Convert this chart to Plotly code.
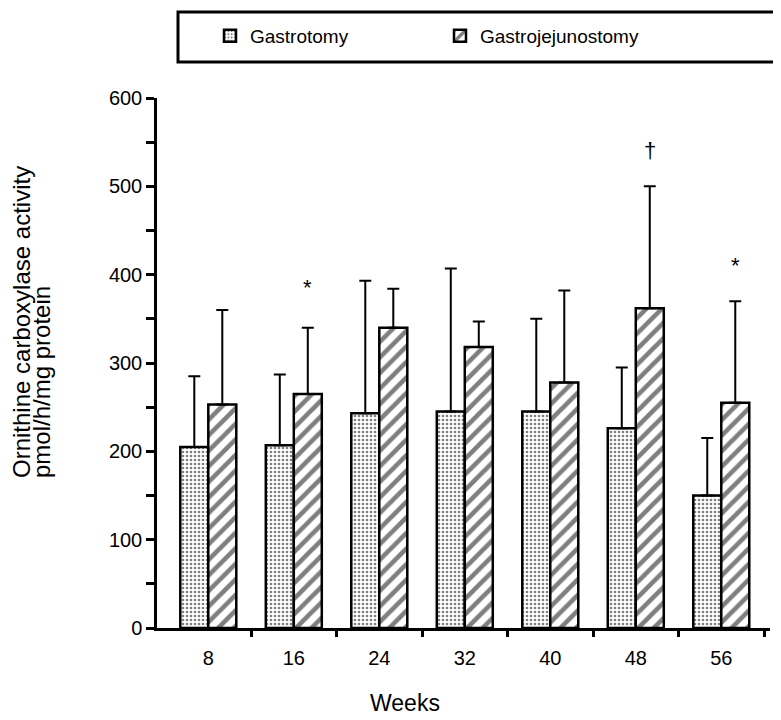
import plotly.graph_objects as go

weeks = ["8", "16", "24", "32", "40", "48", "56"]
gastrotomy_mean = [205, 207, 243, 245, 245, 226, 150]
gastrotomy_top = [285, 287, 393, 407, 350, 295, 215]
gastrojej_mean = [253, 265, 340, 318, 278, 362, 255]
gastrojej_top = [360, 340, 384, 347, 382, 500, 370]
marks = ["", "*", "", "", "", "†", "*"]
mark_y = [None, 386, None, None, None, 541, 410]

FONT = "Liberation Sans, Arial, sans-serif"
xi = list(range(len(weeks)))
bargap = 0.345
barw = (1 - bargap) / 2

g_err = [t - m for t, m in zip(gastrotomy_top, gastrotomy_mean)]
gj_err = [t - m for t, m in zip(gastrojej_top, gastrojej_mean)]

# page has an 8px body margin: figure pixel = page pixel - 8
OFF = 8
W, H = 781 - OFF, 720 - OFF
L, R, T, B = 157 - OFF, 11, 98 - OFF, 92
PW, PH = W - L - R, H - T - B


def px_x(p):  # page x -> paper
    return (p - OFF - L) / PW


def px_y(p):  # page y -> paper
    return (H - B - (p - OFF)) / PH


fig = go.Figure()
fig.add_trace(go.Bar(
    x=xi, y=gastrotomy_mean, name="Gastrotomy",
    marker=dict(color="white", line=dict(color="black", width=2.5),
                pattern=dict(shape=".", size=4, solidity=0.35, fgcolor="black", bgcolor="white")),
    error_y=dict(type="data", array=g_err, arrayminus=[0]*len(xi), symmetric=False,
                 color="black", thickness=2, width=6),
))
fig.add_trace(go.Bar(
    x=xi, y=gastrojej_mean, name="Gastrojejunostomy",
    marker=dict(color="white", line=dict(color="black", width=2.5),
                pattern=dict(shape="/", size=11, solidity=0.42, fgcolor="black", bgcolor="white")),
    error_y=dict(type="data", array=gj_err, arrayminus=[0]*len(xi), symmetric=False,
                 color="black", thickness=2, width=6),
))

# boundary tick marks between groups (overlay axis)
fig.add_trace(go.Scatter(x=[xi[0], xi[-1]], y=[0, 0], xaxis="x2", mode="lines",
                         line=dict(width=0), showlegend=False, hoverinfo="skip"))

for i, (m, y) in enumerate(zip(marks, mark_y)):
    if m:
        fig.add_annotation(x=i + barw / 2, y=y, text=m, showarrow=False,
                           font=dict(family=FONT, size=22, color="black"),
                           xref="x", yref="y")

ytitle_lines = ["Ornithine carboxylase activity", "pmol/h/mg protein"]
for txt, cx in zip(ytitle_lines, [21, 41]):
    fig.add_annotation(x=px_x(cx), y=px_y(480), xref="paper", yref="paper",
                       text=txt, textangle=-90, showarrow=False,
                       xanchor="center", yanchor="bottom",
                       font=dict(family=FONT, size=24, color="black"))

fig.add_annotation(x=px_x(405), y=px_y(703), xref="paper", yref="paper",
                   text="Weeks", showarrow=False, xanchor="center", yanchor="middle",
                   font=dict(family=FONT, size=23, color="black"))

# legend frame
fig.add_shape(type="rect", xref="paper", yref="paper",
              x0=px_x(178), x1=px_x(800),
              y0=px_y(62), y1=px_y(12),
              line=dict(color="black", width=3), fillcolor="white", layer="below")

xr = [-0.6, 6.57]
fig.update_layout(
    width=W, height=H,
    margin=dict(l=L, r=R, t=T, b=B, autoexpand=False),
    paper_bgcolor="white", plot_bgcolor="white",
    barmode="group", bargap=bargap, bargroupgap=0,
    font=dict(family=FONT, size=19, color="black"),
    showlegend=True,
    legend=dict(orientation="h", x=px_x(210), y=px_y(17), xanchor="left", yanchor="top",
                bgcolor="rgba(0,0,0,0)", borderwidth=0,
                font=dict(family=FONT, size=19, color="black"),
                entrywidth=185, entrywidthmode="pixels"),
    xaxis=dict(range=xr, tickmode="array", tickvals=xi, ticktext=weeks,
               ticks="", showline=True, linecolor="black", linewidth=2.5,
               showgrid=False, zeroline=False, ticklabelstandoff=10,
               tickfont=dict(family=FONT, size=20)),
    xaxis2=dict(range=xr, overlaying="x", anchor="y", side="bottom",
                tickmode="array", tickvals=[i + 0.5 for i in xi], ticks="outside",
                ticklen=8, tickwidth=2.5, tickcolor="black", showticklabels=False,
                showline=False, showgrid=False, zeroline=False),
    yaxis=dict(range=[0, 600], tickmode="array", tickvals=[0, 100, 200, 300, 400, 500, 600],
               ticks="outside", ticklen=8, tickwidth=2.5, tickcolor="black",
               minor=dict(tickvals=[50, 150, 250, 350, 450, 550], ticks="outside",
                          ticklen=8, tickwidth=2.5, tickcolor="black"),
               showline=True, linecolor="black", linewidth=2.5,
               showgrid=False, zeroline=False,
               tickfont=dict(family=FONT, size=20)),
)

fig.write_html("out.html")
